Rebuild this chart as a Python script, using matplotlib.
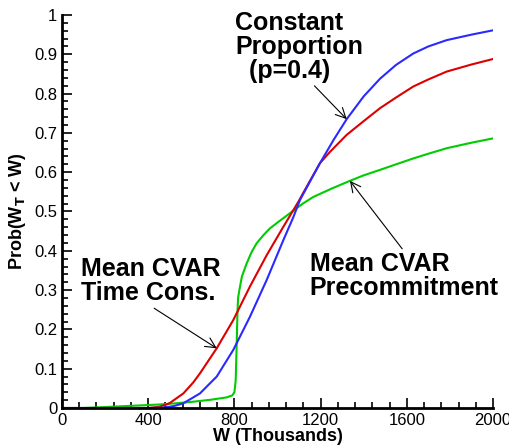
import matplotlib.pyplot as plt
from matplotlib.ticker import MultipleLocator, FormatStrFormatter

plt.rcParams['font.family'] = ['Liberation Sans', 'DejaVu Sans']

# values (W in thousands, cumulative probability)
w_blue = [0, 400, 470, 520, 563, 640, 687, 718, 795, 872, 950, 1027, 1073, 1104, 1197, 1260, 1321, 1400, 1476, 1550, 1630, 1700, 1785, 1900, 2000]
p_blue = [0, 0, 0.001, 0.005, 0.012, 0.037, 0.063, 0.08, 0.148, 0.232, 0.326, 0.427, 0.485, 0.529, 0.623, 0.682, 0.735, 0.793, 0.838, 0.873, 0.902, 0.92, 0.936, 0.95, 0.961]

w_red = [0, 400, 450, 486, 501, 563, 609, 640, 718, 795, 872, 950, 1027, 1073, 1097, 1120, 1197, 1244, 1321, 1400, 1476, 1550, 1630, 1700, 1785, 1900, 2000]
p_red = [0, 0, 0.003, 0.009, 0.013, 0.037, 0.065, 0.088, 0.152, 0.224, 0.309, 0.389, 0.461, 0.503, 0.525, 0.548, 0.623, 0.652, 0.695, 0.73, 0.763, 0.79, 0.818, 0.836, 0.856, 0.874, 0.888]

w_green = [0, 100, 223, 300, 380, 455, 530, 609, 690, 764, 790, 800, 806, 810, 814, 817, 823, 835, 857, 880, 903, 935, 965, 1000, 1027, 1073, 1120, 1166, 1250, 1336, 1400, 1476, 1550, 1630, 1700, 1785, 1900, 2000]
p_green = [0, 0.0, 0.003, 0.005, 0.007, 0.009, 0.012, 0.016, 0.021, 0.027, 0.032, 0.04, 0.07, 0.15, 0.24, 0.28, 0.30, 0.335, 0.368, 0.397, 0.419, 0.44, 0.457, 0.472, 0.483, 0.502, 0.521, 0.537, 0.558, 0.578, 0.592, 0.606, 0.62, 0.635, 0.647, 0.661, 0.675, 0.686]

fig = plt.figure(figsize=(5.09, 4.46), dpi=100)
ax = fig.add_axes([0.1218, 0.0852, 0.8468, 0.8812])

ax.plot(w_green, p_green, color='#00cc00', lw=1.5)
ax.plot(w_red, p_red, color='#dd0000', lw=1.5)
ax.plot(w_blue, p_blue, color='#2a2aff', lw=1.5)

ax.set_xlim(0, 2000)
ax.set_ylim(0, 1)
ax.xaxis.set_major_locator(MultipleLocator(400))
ax.xaxis.set_minor_locator(MultipleLocator(80))
ax.yaxis.set_major_locator(MultipleLocator(0.1))
ax.yaxis.set_minor_locator(MultipleLocator(0.02))
ax.yaxis.set_major_formatter(FormatStrFormatter('%g'))
ax.tick_params(which='both', direction='in', width=1.2, labelsize=12, top=False, right=False)
ax.tick_params(which='major', length=7)
ax.tick_params(which='minor', length=4)
ax.spines['top'].set_visible(False)
ax.spines['right'].set_visible(False)
ax.spines['left'].set_linewidth(2)
ax.spines['bottom'].set_linewidth(2)

ax.set_xlabel('W (Thousands)', fontsize=13, fontweight='bold', labelpad=0)
ax.set_ylabel(r'Prob(W$_\mathbf{T}$ < W)', fontsize=13, fontweight='bold', labelpad=4)

ax.annotate('Constant\nProportion\n  (p=0.4)', xy=(1321, 0.735), xytext=(803, 1.01),
            fontsize=18, fontweight='bold', ha='left', va='top', linespacing=1.0,
            annotation_clip=False,
            arrowprops=dict(arrowstyle='->', color='black', lw=0.8, shrinkA=0, shrinkB=0,
                            relpos=(0.6, 0.0)))
ax.annotate('Mean CVAR\nTime Cons.', xy=(718, 0.152), xytext=(90, 0.383),
            fontsize=18, fontweight='bold', ha='left', va='top', linespacing=1.0,
            arrowprops=dict(arrowstyle='->', color='black', lw=0.8, shrinkA=0, shrinkB=0,
                            relpos=(0.49, 0.0)))
ax.annotate('Mean CVAR\nPrecommitment', xy=(1336, 0.578), xytext=(1150, 0.398),
            fontsize=18, fontweight='bold', ha='left', va='top', linespacing=1.0,
            arrowprops=dict(arrowstyle='->', color='black', lw=0.8, shrinkA=0, shrinkB=0,
                            relpos=(0.5, 1.0)))

fig.savefig('out.png', dpi=100)
